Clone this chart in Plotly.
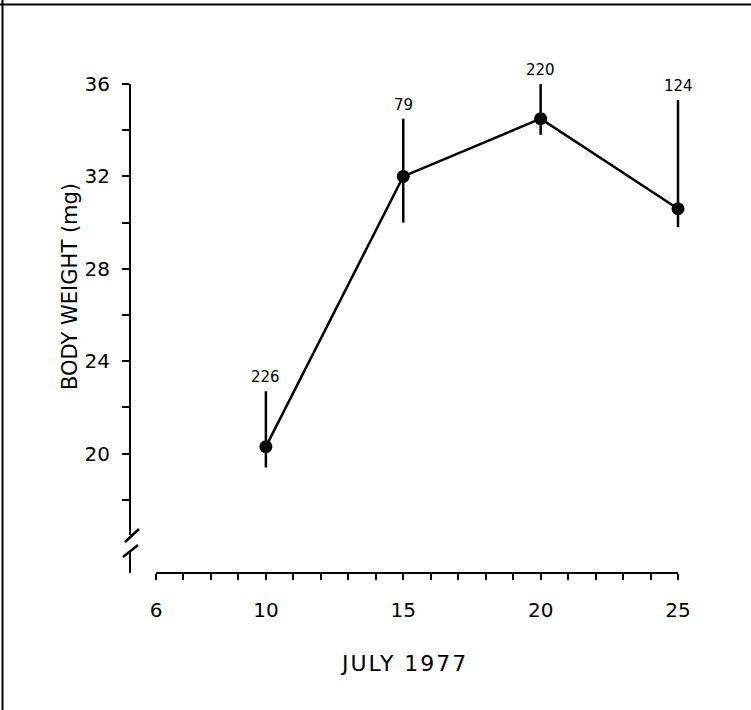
import plotly.graph_objects as go

# данные: масса тела по датам (июль 1977)
days = [10, 15, 20, 25]
weight = [20.3, 32.0, 34.5, 30.6]
err_up = [22.7, 34.5, 36.0, 35.3]
err_down = [19.4, 30.0, 33.8, 29.8]
n_labels = ["226", "79", "220", "124"]

x_ticks = list(range(6, 26))
x_labels = ["6", "10", "15", "20", "25"]
y_ticks = list(range(18, 37, 2))
y_labels = ["20", "24", "28", "32", "36"]

FONT = "DejaVu Sans"
W, H = 751, 710
ML, MR, MT, MB = 130, 60, 84, 137
PW, PH = W - ML - MR, H - MT - MB
X0_PIX, X25_PIX = 156, 678          # пиксели для 6 и 25 по оси X
X_PAD = 0.4                         # запас справа, чтобы не обрезать усы у 25


def px(x):
    return (x - ML) / PW


def py(y):
    return (H - MB - y) / PH


unit = (X25_PIX - X0_PIX) / 19

fig = go.Figure()
fig.add_trace(go.Scatter(
    x=days, y=weight,
    mode="lines+markers",
    line=dict(color="black", width=2.5),
    marker=dict(color="black", size=13),
    error_y=dict(
        type="data", symmetric=False,
        array=[u - w for u, w in zip(err_up, weight)],
        arrayminus=[w - d for w, d in zip(weight, err_down)],
        color="black", thickness=2.5, width=0,
    ),
    cliponaxis=False,
    showlegend=False,
))

for d, u, lab in zip(days, err_up, n_labels):
    fig.add_annotation(x=d, y=u, text=lab, showarrow=False, yshift=14,
                       font=dict(family=FONT, size=15, color="black"))

# подписи осей
fig.add_annotation(xref="paper", yref="paper", x=px(404), y=py(663),
                   xanchor="center", yanchor="middle",
                   text="JULY 1977", showarrow=False,
                   font=dict(family=FONT, size=22, color="black"))
fig.add_annotation(xref="paper", yref="paper", x=px(70), y=py(287),
                   xanchor="center", yanchor="middle",
                   text="BODY WEIGHT (mg)", showarrow=False, textangle=-90,
                   font=dict(family=FONT, size=21, color="black"))

# рамка, линия оси X (от 6 до 25) и разрыв оси Y
shapes = [
    dict(type="line", xref="paper", yref="paper", x0=px(0), x1=px(W), y0=py(4.5), y1=py(4.5),
         line=dict(color="black", width=2)),
    dict(type="line", xref="paper", yref="paper", x0=px(2.5), x1=px(2.5), y0=py(0), y1=py(H),
         line=dict(color="black", width=2)),
    dict(type="line", xref="x", yref="paper", x0=x_ticks[0], x1=x_ticks[-1], y0=0, y1=0,
         line=dict(color="black", width=2)),
    dict(type="rect", xref="paper", yref="paper", x0=px(125), x1=px(136), y0=py(551), y1=py(535),
         fillcolor="white", line=dict(width=0), layer="above"),
    dict(type="line", xref="paper", yref="paper", x0=px(125), x1=px(139), y0=py(542), y1=py(529),
         line=dict(color="black", width=2.5)),
    dict(type="line", xref="paper", yref="paper", x0=px(123), x1=px(138), y0=py(557), y1=py(545),
         line=dict(color="black", width=2.5)),
]

fig.update_layout(
    width=W, height=H,
    margin=dict(l=ML, r=MR, t=MT, b=MB),
    plot_bgcolor="white", paper_bgcolor="white",
    font=dict(family=FONT, size=20, color="black"),
    shapes=shapes,
    xaxis=dict(
        domain=[px(X0_PIX), px(X25_PIX + X_PAD * unit)], range=[6, 25 + X_PAD],
        showline=False,
        ticks="outside", ticklen=6, tickwidth=2, tickcolor="black",
        tickvals=x_ticks,
        ticktext=[str(v) if str(v) in x_labels else "" for v in x_ticks],
        ticklabelstandoff=13,
        showgrid=False, zeroline=False,
    ),
    yaxis=dict(
        anchor="free", position=0, range=[14.83, 36],
        showline=True, linecolor="black", linewidth=2,
        ticks="outside", ticklen=7, tickwidth=2, tickcolor="black",
        tickvals=y_ticks,
        ticktext=[str(v) if str(v) in y_labels else "" for v in y_ticks],
        ticklabelstandoff=8,
        showgrid=False, zeroline=False,
    ),
)

# убрать отступ страницы, чуть разрядить подпись оси X
post = """
document.body.style.margin = '0';
document.querySelectorAll('text').forEach(function (t) {
  if (t.textContent === 'JULY 1977') t.style.letterSpacing = '2px';
});
"""

fig.write_html("out.html", post_script=post, config={"displayModeBar": False})
